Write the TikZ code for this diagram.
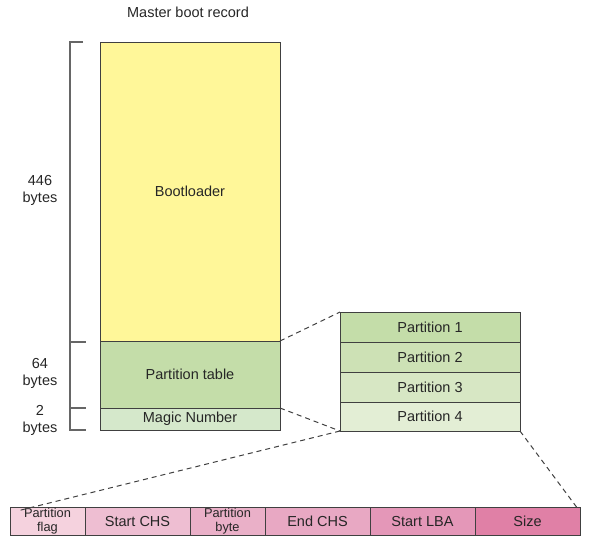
\documentclass[tikz,border=0pt]{standalone}
\usepackage{fontspec}
\setmainfont{Liberation Sans}
\begin{document}
\begin{tikzpicture}[x=1pt,y=-1pt,
  every node/.style={text=black!85, font=\fontsize{14.5}{17}\selectfont},
  cell/.style={draw=black!75, line width=1pt, inner sep=0pt, outer sep=0pt, anchor=center},
  lbl/.style={align=center, inner sep=0pt},
  twoline/.style={align=center, font=\fontsize{12.8}{14}\selectfont},
  brace/.style={draw=black!60, line width=1.2pt},
  zoomline/.style={draw=black!75, line width=1pt, dash pattern=on 5pt off 4pt}]
\useasboundingbox (0,0) rectangle (592,542);

% title
\node (title) at (188,12) {Master boot record};

% main column
\node[cell, fill={rgb,255:red,255;green,247;blue,153}, minimum width=180pt, minimum height=299pt] (boot) at (190,191.5) {Bootloader};
\node[cell, fill={rgb,255:red,196;green,221;blue,169}, minimum width=180pt, minimum height=67pt] (ptab) at (190,374.5) {Partition table};
\node[cell, fill={rgb,255:red,213;green,232;blue,203}, minimum width=180pt, minimum height=22pt] (magic) at (190,419) {Magic Number};

% bracket
\coordinate (b0) at (70,42);
\coordinate (b0e) at (83,42);
\coordinate (b1) at (70,342);
\coordinate (b1e) at (86,342);
\coordinate (b2) at (70,408);
\coordinate (b2e) at (86,408);
\coordinate (b3) at (70,430);
\coordinate (b3e) at (86,430);
\draw[brace] (b0e) -- (b0) -- (b3) -- (b3e);
\draw[brace] (b1) -- (b1e);
\draw[brace] (b2) -- (b2e);

\node[lbl] (l446) at (40,190) {446\\bytes};
\node[lbl] (l64) at (40,373) {64\\bytes};
\node[lbl] (l2) at (40,420) {2\\bytes};

% partitions
\node[cell, fill={rgb,255:red,196;green,221;blue,169}, minimum width=180pt, minimum height=30pt] (p1) at (430,327) {Partition 1};
\node[cell, fill={rgb,255:red,205;green,225;blue,181}, minimum width=180pt, minimum height=30pt] (p2) at (430,357) {Partition 2};
\node[cell, fill={rgb,255:red,215;green,231;blue,196}, minimum width=180pt, minimum height=30pt] (p3) at (430,387) {Partition 3};
\node[cell, fill={rgb,255:red,227;green,238;blue,213}, minimum width=180pt, minimum height=29pt] (p4) at (430,416.5) {Partition 4};

% bottom row
\node[cell, fill={rgb,255:red,245;green,210;blue,222}, minimum width=75pt, minimum height=28pt, twoline] (flag) at (47.5,521) {Partition\\flag};
\node[cell, fill={rgb,255:red,238;green,190;blue,210}, minimum width=105pt, minimum height=28pt] (schs) at (137.5,521) {Start CHS};
\node[cell, fill={rgb,255:red,234;green,176;blue,200}, minimum width=75pt, minimum height=28pt, twoline] (pbyte) at (227.5,521) {Partition\\byte};
\node[cell, fill={rgb,255:red,232;green,168;blue,195}, minimum width=105pt, minimum height=28pt] (echs) at (317.5,521) {End CHS};
\node[cell, fill={rgb,255:red,228;green,151;blue,184}, minimum width=105pt, minimum height=28pt] (slba) at (422.5,521) {Start LBA};
\node[cell, fill={rgb,255:red,224;green,128;blue,166}, minimum width=105pt, minimum height=28pt] (size) at (527.5,521) {Size};

% zoom lines
\draw[zoomline] (ptab.north east) -- (p1.north west);
\draw[zoomline] (magic.north east) -- (p4.south west);
\draw[zoomline] (p4.south west) -- ([xshift=7pt,yshift=-4pt]flag.north west);
\draw[zoomline] (p4.south east) -- ([xshift=-2pt,yshift=-2pt]size.north east);
\end{tikzpicture}
\end{document}
